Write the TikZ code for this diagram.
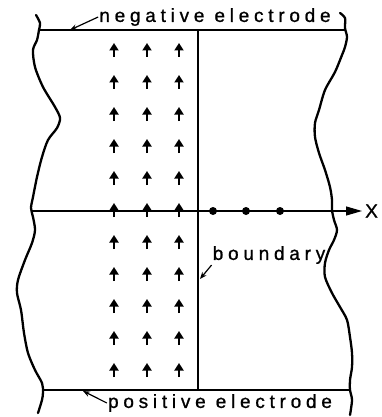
\documentclass[tikz,border=0pt]{standalone}
\usepackage{fontspec}
\usepackage{xcolor}
\usepackage{tikz}
\usetikzlibrary{positioning,arrows.meta}
\newfontfamily\lblfont{Liberation Sans}[LetterSpace=25,FakeBold=1]
\definecolor{inkclr}{RGB}{0,0,0}
\tikzset{
    electrode/.style={line width=2.6pt,draw=inkclr},
    rim/.style={line width=2.3pt,line cap=round,line join=round,draw=inkclr},
    field/.style={-{Triangle[length=7.5pt,width=9pt]},line width=2.3pt},
    axisline/.style={-{Triangle[length=16pt,width=9pt]},line width=1.2pt},
    pointer/.style={-{Stealth[length=7pt,width=5.5pt]},line width=1.2pt},
    charge/.style={circle,fill=inkclr,inner sep=0pt,minimum size=8pt},
    lbl/.style={font=\lblfont\fontsize{19}{22}\selectfont,inner sep=1pt},
}

\begin{document}
\begin{tikzpicture}[x=1pt,y=-1pt]
\useasboundingbox (0,0) rectangle (382,417);
\coordinate (negL) at (40,30);
\coordinate (negR) at (345,30);
\coordinate (posL) at (43,390);
\coordinate (posR) at (350,390);
\coordinate (bndT) at (198,30);
\coordinate (bndB) at (198,390);
\coordinate (axL)  at (31,211);
\coordinate (axR)  at (362,211);

% cut edges of the slab
\draw[rim] plot[smooth] coordinates {(36,15) (40,23) (39,30) (37,40) (33,50) (35,67) (43,87) (55,107) (60,118) (57,128) (48,140) (42,157) (37,177) (33,197) (31,208) (33,217) (35,230) (32,243) (25,260) (18,280) (17,293) (21,310) (24,333) (28,353) (35,370) (42,383) (43,392) (42,400) (38,413)};
\draw[rim] plot[smooth] coordinates {(340,13) (345,18) (345,28) (347,37) (345,47) (342,55) (335,72) (325,90) (319,110) (315,123) (315,137) (319,153) (325,170) (330,187) (332,200) (332,210) (334,220) (337,230) (334,240) (329,250) (325,263) (325,277) (332,293) (340,307) (347,320) (350,337) (352,353) (352,367) (350,380) (350,390) (352,400) (350,415)};

\draw[electrode] (negL) -- (negR);
\draw[electrode] (posL) -- (posR);
\draw[line width=1.1pt] (bndT) -- (bndB);
\draw[axisline] (axL) -- (axR);
\node[lbl,right=2pt of axR] (xlbl) {X};

% field arrows and charges
\foreach \cx in {114,147,179}
  \foreach \cy in {50,82,...,370}
    \draw[field] (\cx,\cy+7) -- (\cx,\cy-7);
\foreach \cx [count=\i] in {213,246,280}
  \node[charge] (q\i) at (\cx,211) {};

\node[lbl] (neg) at (215,17) {negative electrode};
\node[lbl] (pos) at (220,403) {positive electrode};
\node[lbl] (bnd) at (269,255) {boundary};
\coordinate (negtip) at (70,30);
\coordinate (postip) at (83,391);
\coordinate (bndtip) at (200,279);
\draw[pointer] (neg.west) -- (negtip);
\draw[pointer] (pos.west) -- (postip);
\draw[pointer] (bnd.south west) -- (bndtip);
\end{tikzpicture}
\end{document}
